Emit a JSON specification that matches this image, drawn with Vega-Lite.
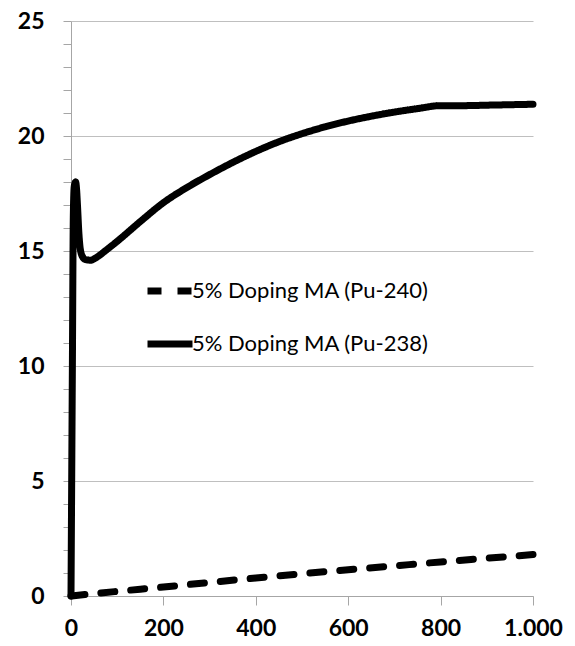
{
  "$schema": "https://vega.github.io/schema/vega-lite/v6.json",
  "autosize": "none",
  "width": 462,
  "height": 575,
  "padding": {"left": 71, "top": 21, "right": 42, "bottom": 50},
  "background": "white",
  "config": {"view": {"stroke": null}},
  "data": {"values": [
    {"series": "5% Doping MA (Pu-240)", "t": 0, "v": 0},
    {"series": "5% Doping MA (Pu-240)", "t": 100, "v": 0.2},
    {"series": "5% Doping MA (Pu-240)", "t": 200, "v": 0.39},
    {"series": "5% Doping MA (Pu-240)", "t": 300, "v": 0.59},
    {"series": "5% Doping MA (Pu-240)", "t": 400, "v": 0.78},
    {"series": "5% Doping MA (Pu-240)", "t": 500, "v": 0.97},
    {"series": "5% Doping MA (Pu-240)", "t": 600, "v": 1.14},
    {"series": "5% Doping MA (Pu-240)", "t": 700, "v": 1.31},
    {"series": "5% Doping MA (Pu-240)", "t": 800, "v": 1.48},
    {"series": "5% Doping MA (Pu-240)", "t": 900, "v": 1.64},
    {"series": "5% Doping MA (Pu-240)", "t": 1000, "v": 1.8},
    {"series": "5% Doping MA (Pu-238)", "t": 0, "v": 0},
    {"series": "5% Doping MA (Pu-238)", "t": 3, "v": 10},
    {"series": "5% Doping MA (Pu-238)", "t": 5, "v": 16.5},
    {"series": "5% Doping MA (Pu-238)", "t": 7, "v": 17.8},
    {"series": "5% Doping MA (Pu-238)", "t": 10, "v": 18.0},
    {"series": "5% Doping MA (Pu-238)", "t": 12, "v": 17.7},
    {"series": "5% Doping MA (Pu-238)", "t": 14, "v": 17.0},
    {"series": "5% Doping MA (Pu-238)", "t": 17, "v": 15.8},
    {"series": "5% Doping MA (Pu-238)", "t": 20, "v": 15.1},
    {"series": "5% Doping MA (Pu-238)", "t": 25, "v": 14.75},
    {"series": "5% Doping MA (Pu-238)", "t": 32, "v": 14.62},
    {"series": "5% Doping MA (Pu-238)", "t": 42, "v": 14.6},
    {"series": "5% Doping MA (Pu-238)", "t": 55, "v": 14.72},
    {"series": "5% Doping MA (Pu-238)", "t": 75, "v": 15.02},
    {"series": "5% Doping MA (Pu-238)", "t": 100, "v": 15.42},
    {"series": "5% Doping MA (Pu-238)", "t": 150, "v": 16.28},
    {"series": "5% Doping MA (Pu-238)", "t": 200, "v": 17.1},
    {"series": "5% Doping MA (Pu-238)", "t": 250, "v": 17.75},
    {"series": "5% Doping MA (Pu-238)", "t": 300, "v": 18.32},
    {"series": "5% Doping MA (Pu-238)", "t": 350, "v": 18.85},
    {"series": "5% Doping MA (Pu-238)", "t": 400, "v": 19.33},
    {"series": "5% Doping MA (Pu-238)", "t": 450, "v": 19.75},
    {"series": "5% Doping MA (Pu-238)", "t": 500, "v": 20.1},
    {"series": "5% Doping MA (Pu-238)", "t": 550, "v": 20.4},
    {"series": "5% Doping MA (Pu-238)", "t": 600, "v": 20.65},
    {"series": "5% Doping MA (Pu-238)", "t": 650, "v": 20.86},
    {"series": "5% Doping MA (Pu-238)", "t": 700, "v": 21.04},
    {"series": "5% Doping MA (Pu-238)", "t": 750, "v": 21.19},
    {"series": "5% Doping MA (Pu-238)", "t": 800, "v": 21.32},
    {"series": "5% Doping MA (Pu-238)", "t": 850, "v": 21.32},
    {"series": "5% Doping MA (Pu-238)", "t": 900, "v": 21.34},
    {"series": "5% Doping MA (Pu-238)", "t": 950, "v": 21.36},
    {"series": "5% Doping MA (Pu-238)", "t": 1000, "v": 21.38}
  ]},
  "mark": {"type": "line", "color": "black", "strokeWidth": 7, "strokeCap": "round", "interpolate": "monotone"},
  "encoding": {
    "x": {"field": "t", "type": "quantitative",
      "scale": {"domain": [0, 1000], "nice": false},
      "axis": {"title": null, "values": [0, 200, 400, 600, 800, 1000], "grid": false,
        "labelExpr": "replace(format(datum.value, ','), ',', '.')",
        "tickSize": 9, "tickColor": "#a6a6a6", "domainColor": "#a6a6a6",
        "labelFont": "Lato", "labelFontWeight": "bold", "labelFontSize": 23, "labelColor": "black",
        "labelPadding": 12, "labelOverlap": false, "labelFlush": false}},
    "y": {"field": "v", "type": "quantitative",
      "scale": {"domain": [0, 25], "nice": false},
      "axis": {"title": null,
        "values": [0,1,2,3,4,5,6,7,8,9,10,11,12,13,14,15,16,17,18,19,20,21,22,23,24,25],
        "labelExpr": "datum.value % 5 === 0 ? datum.label : ''",
        "grid": true, "gridColor": "#bfbfbf",
        "gridOpacity": {"condition": {"test": "datum.value % 5 === 0", "value": 1}, "value": 0},
        "tickSize": 8, "tickColor": "#a6a6a6", "domainColor": "#a6a6a6",
        "labelFont": "Lato", "labelFontWeight": "bold", "labelFontSize": 23, "labelColor": "black",
        "labelPadding": 19, "labelOverlap": false, "labelFlush": false}},
    "strokeDash": {"field": "series", "type": "nominal",
      "scale": {"domain": ["5% Doping MA (Pu-240)", "5% Doping MA (Pu-238)"], "range": [[14, 16], [1, 0]]},
      "legend": {"title": null, "orient": "none", "legendX": 73, "legendY": 244,
        "symbolType": "stroke", "symbolSize": 2025, "symbolStrokeWidth": 7, "symbolStrokeColor": "black",
        "labelFont": "Lato", "labelFontSize": 22, "labelColor": "black", "labelOffset": -4, "labelLimit": 0,
        "rowPadding": 13, "padding": 0}}
  }
}
